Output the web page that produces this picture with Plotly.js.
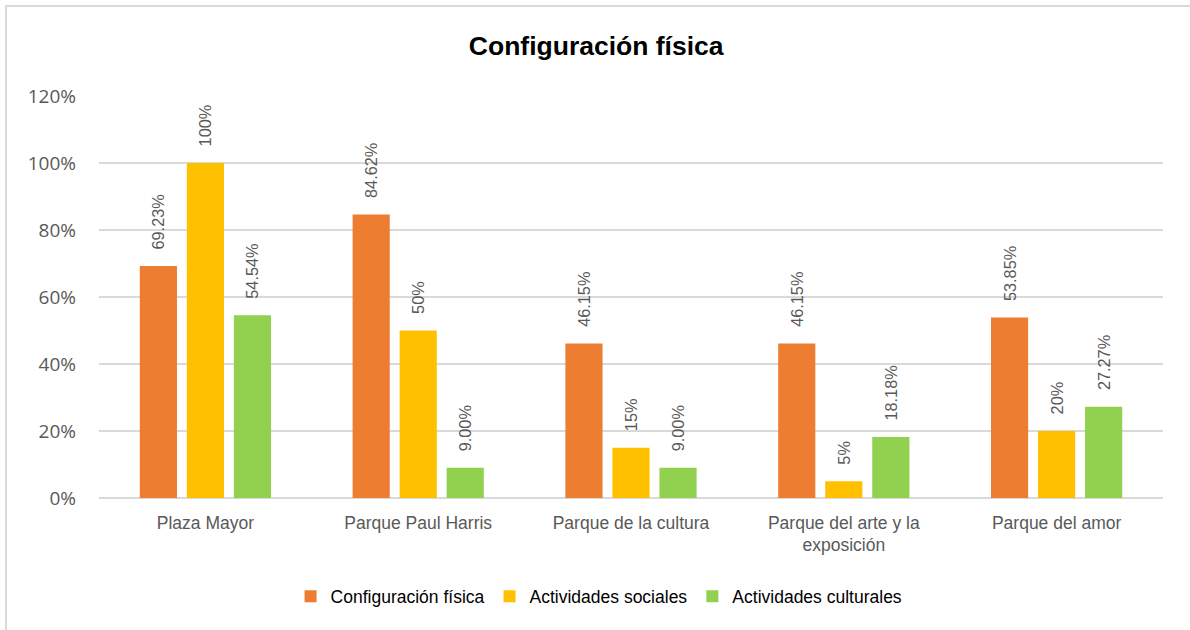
<!DOCTYPE html>
<html>
<head>
<meta charset="utf-8">
<script src="https://cdn.plot.ly/plotly-3.0.1.min.js"></script>
<style>
html,body{margin:0;padding:0;background:#fff;}
#wrap{position:relative;width:1190px;height:630px;overflow:hidden;}
#chart{width:1190px;height:630px;}
#frame{position:absolute;left:5px;top:5px;width:1200px;height:640px;border:2px solid #D9D9D9;pointer-events:none;box-sizing:border-box;}
</style>
</head>
<body>
<div id="wrap"><div id="chart"></div><div id="frame"></div></div>
<script>
const categories = ["Plaza Mayor", "Parque Paul Harris", "Parque de la cultura", "Parque del arte y la<br>exposición", "Parque del amor"];
const seriesNames = ["Configuración física", "Actividades sociales", "Actividades culturales"];
const configuracionFisica = [69.23, 84.62, 46.15, 46.15, 53.85];
const actividadesSociales = [100, 50, 15, 5, 20];
const actividadesCulturales = [54.54, 9.00, 9.00, 18.18, 27.27];
const labelsFisica = ["69.23%", "84.62%", "46.15%", "46.15%", "53.85%"];
const labelsSociales = ["100%", "50%", "15%", "5%", "20%"];
const labelsCulturales = ["54.54%", "9.00%", "9.00%", "18.18%", "27.27%"];
const yTicks = [0, 20, 40, 60, 80, 100, 120];
const yTickText = ["0%", "20%", "40%", "60%", "80%", "100%", "120%"];

const sans = "'Liberation Sans', Arial, sans-serif";
const pad = "\u00a0\u00a0\u00a0";
function mk(name, vals, labels, color) {
  return {
    type: "bar", name: name, x: categories, y: vals,
    text: labels.map(l => pad + l),
    textposition: "outside", textangle: -90, cliponaxis: false, constraintext: "none",
    textfont: {family: sans, size: 16.3, color: "#595959"},
    marker: {color: color},
    hoverinfo: "x+y"
  };
}
const data = [
  mk(seriesNames[0], configuracionFisica, labelsFisica, "#ED7D31"),
  mk(seriesNames[1], actividadesSociales, labelsSociales, "#FFC000"),
  mk(seriesNames[2], actividadesCulturales, labelsCulturales, "#92D050")
];
const layout = {
  width: 1190, height: 630,
  margin: {l: 99, r: 27, t: 96, b: 132, autoexpand: false},
  paper_bgcolor: "#fff", plot_bgcolor: "#fff",
  title: {text: "<b>Configuración física</b>", x: 0.501, xref: "container", y: 0.928, yanchor: "middle",
          font: {family: sans, size: 26.5, color: "#000"}},
  barmode: "group", bargap: 0.337, bargroupgap: 0.21,
  showlegend: true,
  legend: {orientation: "h", x: 0.47, xanchor: "center", y: -0.245, yanchor: "middle",
           font: {family: sans, size: 17.5, color: "#000"}, itemclick: false, traceorder: "normal"},
  xaxis: {tickfont: {family: sans, size: 17.5, color: "#595959"}, showline: false, ticks: "",
          tickangle: 0, ticklabelstandoff: 12, fixedrange: true},
  yaxis: {range: [0, 120], tickvals: yTicks, ticktext: yTickText, showgrid: true, gridcolor: "#D9D9D9",
          gridwidth: 1.5, zeroline: true, zerolinecolor: "#D9D9D9", zerolinewidth: 1.5, showline: false,
          tickfont: {family: "'Open Sans', Lato, sans-serif", size: 19, color: "#595959"},
          ticklabelstandoff: 22, fixedrange: true}
};
Plotly.newPlot("chart", data, layout, {displayModeBar: false});
</script>
</body>
</html>
